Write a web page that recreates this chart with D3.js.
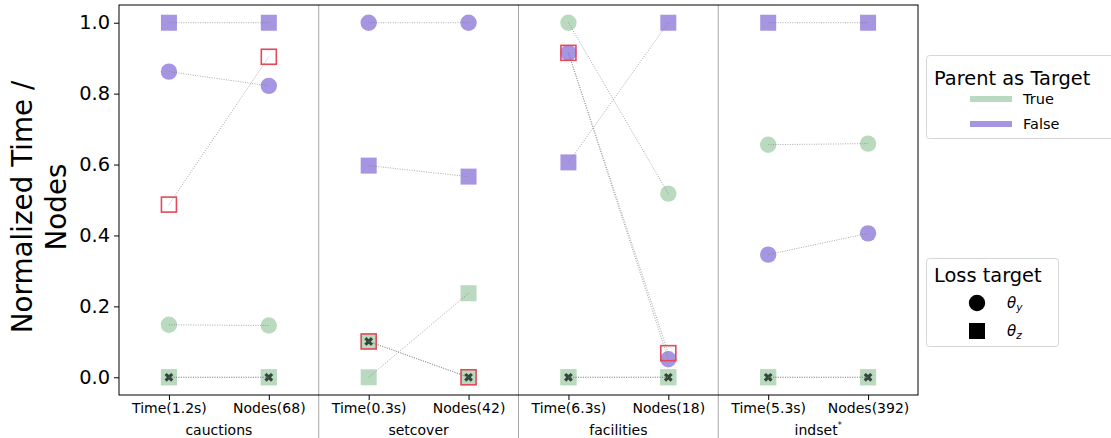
<!DOCTYPE html>
<html><head><meta charset="utf-8">
<script src="https://cdn.jsdelivr.net/npm/d3@7"></script>
<style>body{margin:0;background:#fff}svg{display:block;font-family:"DejaVu Sans",sans-serif}</style>
</head><body><svg id="c" width="1111" height="438"></svg>
<script>
const groups = ["cauctions","setcover","facilities","indset"];
const groupSup = ["","","","*"];
const tickLabels = ["Time(1.2s)","Nodes(68)","Time(0.3s)","Nodes(42)","Time(6.3s)","Nodes(18)","Time(5.3s)","Nodes(392)"];
const yTicks = [0,0.2,0.4,0.6,0.8,1.0];
// per group: [Time, Nodes]
const trueThetaY  = [[0.148,0.146], null, [1.0,0.518], [0.656,0.659]];
const falseThetaY = [[0.862,0.822], [1.0,1.0], [0.915,0.051], [0.346,0.406]];
const trueThetaZ  = [[0,0], [0,0.237], [0,0], [0,0]];
const falseThetaZ = [[1,1], [0.597,0.566], [0.606,1.0], [1,1]];
const baselineX   = [[0,0], [0.101,0], [0,0], [0,0]];
const highlighted = [[0.487,0.904], [0.101,0], [0.915,0.068], null];

const GREEN = "rgb(186,218,192)", PURPLE = "rgb(166,150,225)", RED = "#e5485a";
const svg = d3.select("#c");
const L=119,R=918,T=5,B=395;
const x = d3.scaleLinear().domain([-0.5,7.5]).range([L,R]);
const y = d3.scaleLinear().domain([-0.05,1.05]).range([B,T]);

// separators
[1.5,3.5,5.5].forEach(v=>{
  svg.append("line").attr("x1",x(v)).attr("x2",x(v)).attr("y1",T).attr("y2",438)
    .attr("stroke","#a8a8a8").attr("stroke-width",1);
});

const series = [
  {d:trueThetaZ, shape:"square", fill:GREEN},
  {d:falseThetaZ, shape:"square", fill:PURPLE},
  {d:trueThetaY, shape:"circle", fill:GREEN},
  {d:falseThetaY, shape:"circle", fill:PURPLE},
  {d:baselineX, shape:"square", fill:GREEN, xmark:true},
  {d:highlighted, shape:"hollow", fill:"none"}
];
const pts = s => s.d.flatMap((p,g)=> p? p.map((v,k)=>({i:g*2+k,v})) : []);
const marks = svg.append("g");
series.forEach(s=>{
  const P = pts(s);
  if(s.shape==="circle"){
    marks.selectAll(null).data(P).join("circle").attr("cx",d=>x(d.i)).attr("cy",d=>y(d.v)).attr("r",8.2).attr("fill",s.fill);
  } else if(s.shape==="square"){
    marks.selectAll(null).data(P).join("rect").attr("x",d=>x(d.i)-8).attr("y",d=>y(d.v)-8).attr("width",16).attr("height",16).attr("fill",s.fill);
    if(s.xmark){
      marks.selectAll(null).data(P).join("path")
        .attr("d",d3.symbol(d3.symbolCross,48)())
        .attr("transform",d=>`translate(${x(d.i)},${y(d.v)}) rotate(45)`)
        .attr("fill","#34453a");
    }
  } else {
    marks.selectAll(null).data(P).join("rect").attr("x",d=>x(d.i)-7.5).attr("y",d=>y(d.v)-7.5).attr("width",15).attr("height",15)
      .attr("fill","none").attr("stroke",RED).attr("stroke-width",1.6);
  }
});
// connecting lines
series.forEach(s=>{
  s.d.forEach((p,g)=>{
    if(!p) return;
    svg.append("line").attr("x1",x(g*2)).attr("x2",x(g*2+1)).attr("y1",y(p[0])).attr("y2",y(p[1]))
      .attr("stroke","#777").attr("stroke-opacity",0.7).attr("stroke-width",0.9).attr("stroke-dasharray","1,1.4");
  });
});

// axes
const ya = svg.append("g").attr("transform",`translate(${L},0)`)
  .call(d3.axisLeft(y).tickValues(yTicks).tickFormat(d3.format(".1f")).tickSize(5).tickPadding(4));
ya.select(".domain").remove();
ya.selectAll("text").attr("font-size","19.4px").attr("font-family","DejaVu Sans").attr("fill","#000");
const xa = svg.append("g").attr("transform",`translate(0,${B})`)
  .call(d3.axisBottom(x).tickValues(d3.range(8)).tickFormat(i=>tickLabels[i]).tickSize(5).tickPadding(3));
xa.select(".domain").remove();
xa.selectAll("text").attr("font-size","14px").attr("font-family","DejaVu Sans").attr("fill","#000");
svg.append("rect").attr("x",L).attr("y",T).attr("width",R-L).attr("height",B-T).attr("fill","none").attr("stroke","#000").attr("stroke-width",1);

// group labels
groups.forEach((g,j)=>{
  const t = svg.append("text").attr("x",x(j*2+0.5)).attr("y",435).attr("text-anchor","middle").attr("font-size","14px").text(g);
  if(groupSup[j]) t.append("tspan").attr("font-size","8px").attr("dy",-7).text(groupSup[j]);
});

// y label
const yl = svg.append("text").attr("transform","translate(0,207) rotate(-90)").attr("text-anchor","middle").attr("font-size","27.8px");
yl.append("tspan").attr("x",0).attr("y",32).text("Normalized Time /");
yl.append("tspan").attr("x",0).attr("y",66).text("Nodes");

// legend 1
const l1 = svg.append("g");
l1.append("rect").attr("x",926.5).attr("y",55.5).attr("width",200).attr("height",83).attr("rx",3).attr("fill","#fff").attr("stroke","#d6d6d6");
l1.append("text").attr("x",934).attr("y",85).attr("font-size","19.4px").text("Parent as Target");
[["True",GREEN,99],["False",PURPLE,124]].forEach(([t,c,yy])=>{
  l1.append("line").attr("x1",970).attr("x2",1012).attr("y1",yy).attr("y2",yy).attr("stroke",c).attr("stroke-width",6);
  l1.append("text").attr("x",1023).attr("y",yy+5).attr("font-size","14.5px").text(t);
});
// legend 2
const l2 = svg.append("g");
l2.append("rect").attr("x",926.5).attr("y",258.5).attr("width",132).attr("height",88).attr("rx",3).attr("fill","#fff").attr("stroke","#d6d6d6");
l2.append("text").attr("x",934).attr("y",282).attr("font-size","19.4px").text("Loss target");
l2.append("circle").attr("cx",977).attr("cy",303).attr("r",8.2).attr("fill","#000");
l2.append("rect").attr("x",969).attr("y",323).attr("width",16).attr("height",16).attr("fill","#000");
[["y",308],["z",336]].forEach(([s,yy])=>{
  const t = l2.append("text").attr("x",1007).attr("y",yy).attr("font-size","15px").attr("font-style","italic").text("θ");
  t.append("tspan").attr("font-size","10.5px").attr("dy",3).text(s);
});
</script></body></html>
